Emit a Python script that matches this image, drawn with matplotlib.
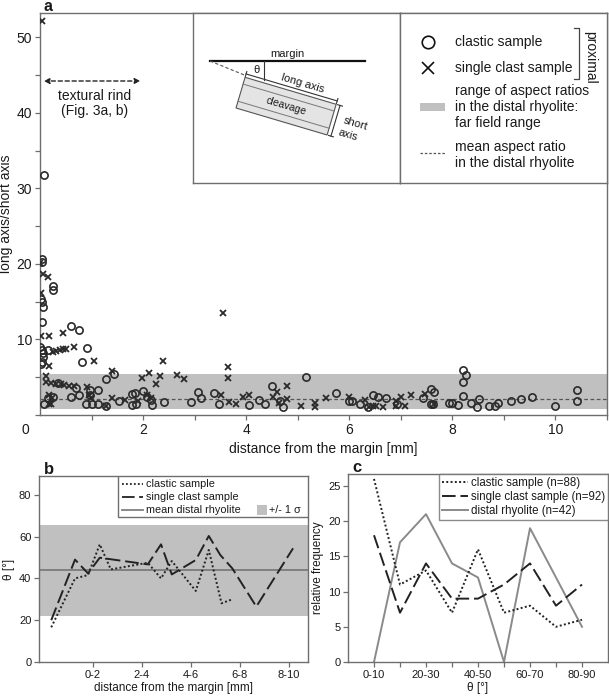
import numpy as np
import matplotlib
matplotlib.use("Agg")
import matplotlib.pyplot as plt
from matplotlib.patches import Polygon, Rectangle

plt.rcParams['font.family'] = ['Liberation Sans', 'DejaVu Sans']

# ---------------- data ----------------
# panel a: aspect ratio vs distance from margin [mm]
clastic_x = [0.08, 0.04, 0.04, 0.02, 0.04, 0.05, 0.04, 0.25, 0.25, 0.61, 0.76, 0.91, 0.81,
             0.0, 0.03, 0.05, 0.06, 0.03, 0.02, 0.15, 1.28, 1.43, 1.12, 0.97, 0.97, 0.70,
             0.34, 0.60, 0.76, 0.25, 0.15, 0.08, 0.90, 1.00, 1.12, 1.28, 1.53, 1.78, 1.84,
             1.78, 1.86, 1.99, 2.07, 2.15, 2.17, 2.41, 2.92, 3.07, 3.12, 3.38, 3.48, 4.05,
             4.25, 4.36, 4.51, 4.66, 4.72, 5.17, 5.74, 6.00, 6.06, 6.20, 6.36, 6.46, 6.56,
             6.72, 6.93, 7.44, 7.59, 7.64, 7.58, 7.62, 7.94, 8.00, 8.10, 8.20, 8.26, 8.20,
             8.21, 8.36, 8.47, 8.52, 8.72, 8.82, 8.88, 9.14, 9.33, 9.55, 10.0, 10.41, 10.41]
clastic_y = [31.7, 20.6, 20.2, 15.3, 15.0, 14.3, 12.3, 17.1, 16.6, 11.8, 11.2, 8.9, 7.0,
             9.0, 8.6, 8.2, 7.7, 7.0, 6.8, 8.6, 4.7, 5.4, 3.3, 3.3, 2.7, 3.6,
             4.2, 2.4, 2.6, 2.4, 2.2, 1.5, 1.4, 1.5, 1.4, 1.2, 1.9, 2.8, 2.9,
             1.3, 1.4, 3.2, 2.4, 2.0, 1.3, 1.7, 1.7, 3.0, 2.25, 2.9, 1.45, 1.3,
             2.0, 1.45, 3.8, 1.85, 1.0, 5.0, 2.9, 1.9, 1.9, 1.45, 1.0, 2.65, 2.4,
             2.2, 1.45, 2.2, 3.4, 3.0, 1.5, 1.4, 1.55, 1.55, 1.3, 5.9, 5.3, 4.4,
             2.55, 1.55, 1.1, 2.1, 1.2, 1.2, 1.6, 1.9, 2.1, 2.4, 1.2, 3.3, 1.8]

single_x = [0.04, 0.0, 0.05, 0.16, 0.02, 0.02, 0.18, 0.45, 0.65, 1.05, 2.39, 0.18, 0.25,
            0.32, 0.38, 0.44, 0.50, 0.12, 0.12, 0.21, 0.31, 0.40, 0.47, 0.57, 0.65, 0.18,
            0.24, 0.21, 0.18, 0.91, 0.96, 0.99, 1.39, 1.98, 2.12, 2.26, 2.32, 2.65, 2.79,
            3.55, 3.65, 3.65, 1.39, 1.29, 1.65, 1.90, 2.07, 2.16, 3.52, 3.67, 3.80, 3.93,
            4.06, 4.52, 4.59, 4.64, 4.79, 4.79, 5.07, 5.33, 5.33, 5.54, 5.99, 6.30, 6.38,
            6.46, 6.52, 6.65, 6.91, 6.91, 7.01, 7.09, 7.20, 7.46, 7.65]
single_y = [52.1, 20.1, 18.7, 18.2, 16.2, 10.4, 10.45, 10.8, 9.0, 7.1, 7.2, 6.5, 8.4,
            8.5, 8.6, 8.7, 8.7, 5.1, 4.4, 4.3, 4.1, 4.1, 4.0, 3.9, 3.8, 2.6,
            2.3, 1.5, 1.4, 3.75, 2.6, 2.2, 5.8, 4.85, 5.6, 4.05, 5.15, 5.3, 4.8,
            13.5, 6.3, 4.85, 2.3, 1.2, 2.0, 1.9, 2.65, 2.2, 2.6, 1.75, 1.45, 2.4,
            2.65, 2.4, 3.0, 1.6, 3.85, 2.1, 1.2, 1.6, 1.1, 2.2, 2.4, 2.0, 1.1,
            1.2, 1.2, 1.1, 1.9, 1.2, 2.4, 1.2, 2.65, 2.75, 1.45]

far_field_range = (0.8, 5.4)
mean_aspect = 2.1

# panel b: angle theta vs distance
b_ticks = [1, 3, 5, 7, 9]
b_labels = ['0-2', '2-4', '4-6', '6-8', '8-10']
b_clastic_x = [-0.7, 0.27, 0.8, 1.28, 1.73, 3.24, 3.78, 4.22, 5.2, 5.73, 6.25, 6.69]
b_clastic_y = [16.6, 40.0, 41.6, 56.3, 44.3, 47.5, 40.0, 48.3, 34.0, 53.6, 28.1, 30.0]
b_single_x = [-0.7, 0.27, 0.8, 1.28, 3.24, 3.78, 4.22, 5.2, 5.73, 6.2, 6.69, 7.67, 9.17]
b_single_y = [20.0, 49.0, 42.4, 49.9, 46.7, 56.3, 41.9, 48.8, 60.3, 51.2, 44.8, 26.5, 54.4]
theta_mean = 44.0
theta_band = (22.0, 65.5)

# panel c: relative frequency of theta
theta_classes = ['0-10', '10-20', '20-30', '30-40', '40-50', '50-60', '60-70', '70-80', '80-90']
freq_clastic = [26, 11, 13, 7, 16, 7, 8, 5, 6]
freq_single = [18, 7, 14, 9, 9, 11, 14, 8, 11]
freq_distal = [0, 17, 21, 14, 12, 0, 19, 12, 5]

# ---------------- styling ----------------
spine_c = '#6e6e6e'
band_c = '#c0c0c0'
ink = '#1a1a1a'
long_dash = (0, (7, 2.5))


def style_axes(ax, size):
    for s in ax.spines.values():
        s.set_color(spine_c)
        s.set_linewidth(1.0)
    ax.tick_params(direction='out', length=3.5, width=0.9, color=spine_c,
                   labelsize=size, labelcolor=ink, pad=2)
    ax.tick_params(which='minor', direction='out', length=3.5, width=0.9, color=spine_c)


fig = plt.figure(figsize=(6.09, 6.98), dpi=100)

# ================= panel a =================
ax = fig.add_axes([40/609, 1-415/698, 567/609, 402/698])
ax.axhspan(*far_field_range, color=band_c, lw=0, zorder=0)
ax.axhline(mean_aspect, color='#555555', ls=(0, (3, 2)), lw=0.9, zorder=1)
ax.plot(clastic_x, clastic_y, 'o', ms=5.2, mfc='none', mec='#2a2a2a', mew=1.2, zorder=3)
ax.plot(single_x, single_y, 'x', ms=4.8, mec='#2a2a2a', mew=1.3, zorder=3)
ax.set_xlim(0, 11)
ax.set_ylim(0, 53.2)
ax.set_xticks([2, 4, 6, 8, 10])
ax.set_xticks([1, 3, 5, 7, 9, 11], minor=True)
ax.set_yticks([10, 20, 30, 40, 50])
ax.set_yticks([0, 5, 15, 25, 35, 45], minor=True)
style_axes(ax, 10)
ax.text(-0.2, -1.0, '0', ha='right', va='top', fontsize=10, color=ink)
ax.set_xlabel('distance from the margin [mm]', fontsize=10, color=ink, labelpad=4)
ax.set_ylabel('long axis/short axis', fontsize=10, color=ink)
ax.yaxis.set_label_coords(-0.047, 0.5)
fig.text(44/609, 1-11/698, 'a', fontsize=11.5, fontweight='bold', ha='left',
         va='baseline', color=ink)

ax.annotate('', xy=(0.02, 44.2), xytext=(2.0, 44.2),
            arrowprops=dict(arrowstyle='<|-|>', color='#222222', lw=1.0,
                            ls=(0, (3, 2)), mutation_scale=8))
ax.text(1.05, 41.2, 'textural rind\n(Fig. 3a, b)', ha='center', va='center',
        fontsize=10, color=ink, linespacing=1.1)

# ---- inset: sketch ----
box_w, box_h = 207, 170
sk = fig.add_axes([193/609, 1-183/698, box_w/609, box_h/698])
sk.set_xlim(0, box_w)
sk.set_ylim(box_h, 0)
sk.set_xticks([])
sk.set_yticks([])
for s in sk.spines.values():
    s.set_color(spine_c)
    s.set_linewidth(1.0)

u = np.array([0.959, 0.284])
n = np.array([0.284, -0.959])
bl = np.array([43.0, 95.0])
tl = bl + 32 * n
tr = tl + 95 * u
br = bl + 95 * u
sk.add_patch(Polygon([tl, tr, br, bl], closed=True, fc='#e4e4e4', ec='#555555', lw=0.8))
for t in (0.22, 0.78):
    p0 = bl + 32 * t * n
    p1 = br + 32 * t * n
    sk.plot([p0[0], p1[0]], [p0[1], p1[1]], color='#777777', lw=0.7)
sk.plot([17, 172], [48, 48], color='#111111', lw=1.6)
sk.plot([17, tl[0]], [48, tl[1] - 2], color='#555555', lw=0.8, ls=(0, (3, 2)))
sk.plot([71, 71], [48, 67], color='#333333', lw=0.8)
d0 = tl + 3.5 * n
d1 = tr + 3.5 * n
sk.plot([d0[0], d1[0]], [d0[1], d1[1]], color='#333333', lw=0.8)
for q in (d0, d1):
    sk.plot([q[0] - 2.5 * n[0], q[0] + 2.5 * n[0]], [q[1] - 2.5 * n[1], q[1] + 2.5 * n[1]],
            color='#333333', lw=0.8)
e0 = tr + 4 * u
e1 = br + 4 * u
sk.plot([e0[0], e1[0]], [e0[1], e1[1]], color='#333333', lw=0.8)
for q in (e0, e1):
    sk.plot([q[0] - 2.5 * u[0], q[0] + 2.5 * u[0]], [q[1] - 2.5 * u[1], q[1] + 2.5 * u[1]],
            color='#333333', lw=0.8)
ang = -16.5
sk.text(94, 41, 'margin', ha='center', va='center', fontsize=8, color=ink)
sk.text(64, 57, 'θ', ha='center', va='center', fontsize=8, color=ink)
sk.text(110, 70, 'long axis', ha='center', va='center', fontsize=8, color=ink, rotation=ang)
cen = (bl + tr) / 2
sk.text(cen[0], cen[1], 'cleavage', ha='center', va='center', fontsize=7.5, color=ink,
        rotation=ang)
sk.text(163, 111, 'short', ha='center', va='center', fontsize=8, color=ink, rotation=ang)
sk.text(155, 122, 'axis', ha='center', va='center', fontsize=8, color=ink, rotation=ang)

# ---- inset: legend ----
lg = fig.add_axes([400/609, 1-183/698, box_w/609, box_h/698])
lg.set_xlim(0, box_w)
lg.set_ylim(box_h, 0)
lg.set_xticks([])
lg.set_yticks([])
for s in lg.spines.values():
    s.set_color(spine_c)
    s.set_linewidth(1.0)
lg.plot([28], [29], 'o', ms=9, mfc='none', mec='#111111', mew=1.2)
lg.plot([28], [55], 'x', ms=9, mec='#111111', mew=1.2)
lg.text(55, 29, 'clastic sample', va='center', fontsize=10, color=ink)
lg.text(55, 55, 'single clast sample', va='center', fontsize=10, color=ink)
lg.plot([174, 179, 179, 174], [15, 15, 66, 66], color='#444444', lw=0.9)
lg.text(190, 44, 'proximal', rotation=-90, ha='center', va='center', fontsize=10, color=ink)
lg.add_patch(Rectangle((20, 90), 25, 8, fc=band_c, ec='none'))
lg.text(55, 94, 'range of aspect ratios\nin the distal rhyolite:\nfar field range',
        va='center', fontsize=10, color=ink, linespacing=1.15)
lg.plot([20, 45], [140, 140], color='#555555', lw=0.9, ls=(0, (2, 1.5)))
lg.text(55, 142, 'mean aspect ratio\nin the distal rhyolite', va='center', fontsize=10,
        color=ink, linespacing=1.15)

# ================= panel b =================
bx = fig.add_axes([39/609, 1-662/698, 269/609, 186/698])
bx.axhspan(*theta_band, color=band_c, lw=0, zorder=0)
bx.axhline(theta_mean, color='#808080', lw=1.4, zorder=1)
bx.plot(b_clastic_x, b_clastic_y, color='#222222', lw=1.4, ls=(0, (1, 1.2)), zorder=3)
bx.plot(b_single_x, b_single_y, color='#222222', lw=1.4, ls=long_dash, zorder=3)
bx.set_xlim(-1.2, 9.78)
bx.set_ylim(0, 89)
bx.set_xticks(b_ticks)
bx.set_xticklabels(b_labels)
bx.set_yticks([0, 20, 40, 60, 80])
style_axes(bx, 8)
bx.set_xlabel('distance from the margin [mm]', fontsize=8.5, color=ink, labelpad=2)
bx.set_ylabel('θ [°]', fontsize=8.5, color=ink, labelpad=3)
fig.text(44/609, 1-474/698, 'b', fontsize=12, fontweight='bold', ha='left',
         va='baseline', color=ink)

# legend box for b (line samples + sigma patch on the last row)
lx0, ly0 = 0.294, 0.78
bx.add_patch(Rectangle((lx0, ly0), 1 - lx0, 1 - ly0, transform=bx.transAxes,
                       fc='white', ec=spine_c, lw=1.0, zorder=4))
rows = [0.955, 0.885, 0.815]
bx.plot([0.31, 0.385], [rows[0]] * 2, transform=bx.transAxes, color='#222222', lw=1.3,
        ls=(0, (1, 1.2)), zorder=5)
bx.plot([0.31, 0.385], [rows[1]] * 2, transform=bx.transAxes, color='#222222', lw=1.3,
        ls=long_dash, zorder=5)
bx.plot([0.31, 0.385], [rows[2]] * 2, transform=bx.transAxes, color='#808080', lw=1.3,
        zorder=5)
for r, t in zip(rows, ['clastic sample', 'single clast sample', 'mean distal rhyolite']):
    bx.text(0.397, r, t, transform=bx.transAxes, va='center', fontsize=7.8, color=ink, zorder=5)
bx.add_patch(Rectangle((0.812, 0.79), 0.036, 0.055, transform=bx.transAxes,
                       fc=band_c, ec='none', zorder=5))
bx.text(0.855, rows[2], '+/- 1 σ', transform=bx.transAxes, va='center', fontsize=7.8,
        color=ink, zorder=5)

# ================= panel c =================
cx = fig.add_axes([348/609, 1-662/698, 260/609, 188/698])
xi = np.arange(len(theta_classes))
cx.plot(xi, freq_distal, color='#8a8a8a', lw=1.4, label='distal rhyolite (n=42)', zorder=2)
cx.plot(xi, freq_clastic, color='#222222', lw=1.4, ls=(0, (1, 1.2)),
        label='clastic sample (n=88)', zorder=3)
cx.plot(xi, freq_single, color='#222222', lw=1.4, ls=long_dash,
        label='single clast sample (n=92)', zorder=3)
cx.set_xlim(-1, 9)
cx.set_ylim(0, 26.7)
cx.set_xticks(xi)
cx.set_xticklabels([c if i % 2 == 0 else '' for i, c in enumerate(theta_classes)])
cx.set_yticks([0, 5, 10, 15, 20, 25])
style_axes(cx, 8)
cx.set_xlabel('θ [°]', fontsize=8.5, color=ink, labelpad=2)
cx.set_ylabel('relative frequency', fontsize=8.5, color=ink, labelpad=3)
fig.text(352/609, 1-472/698, 'c', fontsize=12, fontweight='bold', ha='left',
         va='baseline', color=ink)
h, l = cx.get_legend_handles_labels()
leg = cx.legend([h[1], h[2], h[0]], [l[1], l[2], l[0]], loc='upper right', fontsize=8.3,
                frameon=True, fancybox=False, borderaxespad=0, handlelength=2.2,
                handletextpad=0.3, borderpad=0.25, labelspacing=0.2)
leg.get_frame().set_edgecolor(spine_c)
leg.get_frame().set_linewidth(1.0)
for t in leg.get_texts():
    t.set_color(ink)

fig.savefig('out.png', dpi=100)
